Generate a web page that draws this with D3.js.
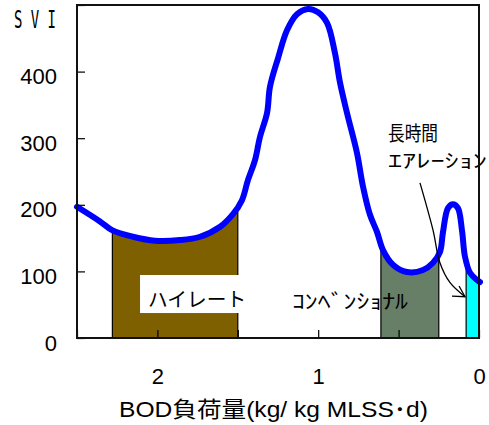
<!DOCTYPE html>
<html>
<head>
<meta charset="utf-8">
<script src="https://cdn.jsdelivr.net/npm/d3@7"></script>
<style>
  body { margin: 0; background: #fff; }
  text { font-family: "Liberation Sans", Arial, "Noto Sans CJK JP", sans-serif; fill: #000; }
  .jp { font-family: "Noto Sans CJK JP", "Liberation Sans", sans-serif; }
</style>
</head>
<body>
<svg id="chart" width="489" height="425"></svg>
<script>
// SVI versus BOD sludge loading (kg/kg MLSS·d)
const loadX = [2.5, 2.357, 2.282, 2.152, 2.015, 1.86, 1.735, 1.61, 1.53, 1.474,
  1.437, 1.393, 1.362, 1.318, 1.30, 1.25, 1.194, 1.132, 1.063, 1.001,
  0.945, 0.896, 0.864, 0.821, 0.759, 0.721, 0.678, 0.634, 0.597, 0.535,
  0.448, 0.348, 0.286, 0.243, 0.224, 0.193, 0.162, 0.131, 0.106, 0.087,
  0.056, 0.012, -0.006];
const sviY = [197, 175, 162, 152, 146, 147, 152, 167, 186, 207,
  237, 267, 302, 338, 377, 420, 462, 486, 494, 489,
  473, 428, 383, 338, 278, 227, 185, 159, 132, 110,
  99, 102, 113, 129, 159, 195, 201, 195, 162, 122,
  98, 87, 84];

// Operating ranges of the three process types
const bandNames = ["ハイレート", "コンベンショナル", "長時間エアレーション"];
const bandFrom = [2.28, 0.61, 0.08];
const bandTo = [1.5, 0.25, 0.0];

// Axis ticks
const xTickValues = [0, 0.5, 1, 1.5, 2, 2.5];
const xTickLabels = [0, 1, 2];
const yTickValues = [0, 100, 200, 300, 400, 500];
const yTickLabels = [0, 100, 200, 300, 400];

// Arrow pointing at the extended-aeration band (data units)
const arrowX = [0.367, 0.286, 0.243, 0.180, 0.087];
const arrowY = [233, 162, 113, 83, 62];

const bandColors = ["#7f6000", "#677f67", "#00ffff"];

const svg = d3.select("#chart");
const plotLeft = 77, plotRight = 479, plotTop = 5, plotBottom = 338;

const x = d3.scaleLinear().domain([2.5, 0]).range([plotLeft, plotRight]);
const y = d3.scaleLinear().domain([0, 500]).range([plotBottom, plotTop]);

const pts = loadX.map((v, i) => [v, sviY[i]]);
const curveType = d3.curveCatmullRom.alpha(0.5);

const area = d3.area()
  .x(d => x(d[0])).y0(y(0)).y1(d => y(d[1])).curve(curveType);
const line = d3.line()
  .x(d => x(d[0])).y(d => y(d[1])).curve(curveType);

svg.append("defs").append("clipPath").attr("id", "under")
  .append("path").attr("d", area(pts));

// Process bands filled up to the curve
svg.append("g").attr("clip-path", "url(#under)")
  .selectAll("rect").data(bandFrom).join("rect")
  .attr("x", (d, i) => x(d))
  .attr("width", (d, i) => x(bandTo[i]) - x(d))
  .attr("y", y(500))
  .attr("height", y(0) - y(500))
  .attr("fill", (d, i) => bandColors[i])
  .attr("stroke", "#000")
  .attr("stroke-width", 1.2);

// Label for the high-rate band on a white plate
const hrBox = { x0: 2.108, x1: 1.449, y0: 37.5, y1: 94.6 };
svg.append("rect")
  .attr("x", x(hrBox.x0)).attr("y", y(hrBox.y1))
  .attr("width", x(hrBox.x1) - x(hrBox.x0))
  .attr("height", y(hrBox.y0) - y(hrBox.y1))
  .attr("fill", "#fff");
svg.append("text").attr("class", "jp")
  .attr("x", x(2.058)).attr("y", y(46.5))
  .attr("font-size", 20)
  .attr("textLength", 98).attr("lengthAdjust", "spacingAndGlyphs")
  .text("ハイレート");

svg.append("text").attr("class", "jp")
  .attr("x", x(1.163)).attr("y", y(43.5))
  .attr("font-size", 20)
  .attr("textLength", 116).attr("lengthAdjust", "spacingAndGlyphs")
  .text("ｺﾝﾍﾞﾝｼｮﾅﾙ");

svg.append("text").attr("class", "jp")
  .attr("x", x(0.566)).attr("y", y(296))
  .attr("font-size", 20)
  .attr("textLength", 50).attr("lengthAdjust", "spacingAndGlyphs")
  .text("長時間");
svg.append("text").attr("class", "jp")
  .attr("x", x(0.566)).attr("y", y(255))
  .attr("font-size", 19)
  .attr("textLength", 99).attr("lengthAdjust", "spacingAndGlyphs")
  .text("ｴｱﾚｰｼｮﾝ");

// SVI curve
svg.append("path")
  .attr("d", line(pts))
  .attr("fill", "none")
  .attr("stroke", "#0000ff")
  .attr("stroke-width", 6)
  .attr("stroke-linejoin", "round")
  .attr("stroke-linecap", "round");

// Curved arrow with open head
const arrowPts = arrowX.map((v, i) => [v, arrowY[i]]);
svg.append("path")
  .attr("d", d3.line().x(d => x(d[0])).y(d => y(d[1])).curve(d3.curveCatmullRom)(arrowPts))
  .attr("fill", "none").attr("stroke", "#000").attr("stroke-width", 1.3);
const tip = arrowPts[arrowPts.length - 1];
svg.append("path")
  .attr("d", d3.line().x(d => x(d[0])).y(d => y(d[1]))([[0.168, 63], tip, [0.124, 78]]))
  .attr("fill", "none").attr("stroke", "#000").attr("stroke-width", 1.3);

// Axes
const yAxis = d3.axisLeft(y)
  .tickValues(yTickValues)
  .tickSize(-8)
  .tickPadding(20)
  .tickFormat(d => yTickLabels.includes(d) ? d : "");
const gy = svg.append("g").attr("transform", `translate(${plotLeft},0)`).call(yAxis);
gy.select(".domain").remove();
gy.selectAll("line").attr("stroke", "#000").attr("stroke-width", 1.2);
gy.selectAll("text").attr("font-size", 22).attr("dy", "0.55em")
  .style("font-family", '"Liberation Sans", Arial, sans-serif');

const xAxis = d3.axisBottom(x)
  .tickValues(xTickValues)
  .tickSize(-8)
  .tickPadding(30)
  .tickFormat(d => xTickLabels.includes(d) ? d : "");
const gx = svg.append("g").attr("transform", `translate(0,${plotBottom})`).call(xAxis);
gx.select(".domain").remove();
gx.selectAll("line").attr("stroke", "#000").attr("stroke-width", 1.2);
gx.selectAll("text").attr("font-size", 22)
  .style("font-family", '"Liberation Sans", Arial, sans-serif');

// Frame
svg.append("rect")
  .attr("x", plotLeft).attr("y", plotTop)
  .attr("width", plotRight - plotLeft).attr("height", plotBottom - plotTop)
  .attr("fill", "none").attr("stroke", "#111").attr("stroke-width", 2);

// Axis titles
svg.append("text")
  .attr("x", 14).attr("y", 28)
  .attr("font-size", 25)
  .attr("textLength", 42).attr("lengthAdjust", "spacingAndGlyphs")
  .style("font-family", '"DejaVu Sans Mono", monospace')
  .text("S V I");

svg.append("text")
  .attr("x", 119).attr("y", 417)
  .attr("font-size", 22)
  .attr("textLength", 309).attr("lengthAdjust", "spacingAndGlyphs")
  .text("BOD負荷量(kg/ kg MLSS･d)");
</script>
</body>
</html>
